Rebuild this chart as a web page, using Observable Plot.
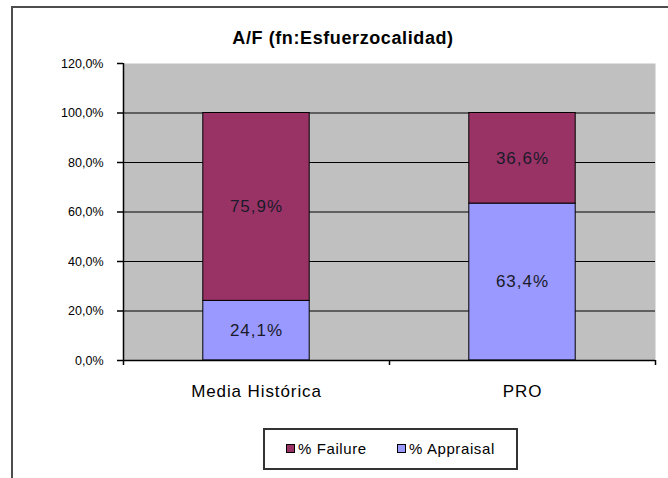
<!DOCTYPE html>
<html>
<head>
<meta charset="utf-8">
<script src="https://cdn.jsdelivr.net/npm/d3@7"></script>
<script src="https://cdn.jsdelivr.net/npm/@observablehq/plot@0.6"></script>
<style>
  html, body { margin: 0; padding: 0; background: #fff; }
  #wrap { position: relative; width: 668px; height: 478px; overflow: hidden; font-family: Arial, "Liberation Sans", sans-serif; }
  #frame { position: absolute; left: 11px; top: 6px; width: 700px; height: 520px; border: 2px solid #4d4d4d; box-sizing: border-box; }
  #title { position: absolute; left: 0; width: 686px; top: 28px; text-align: center; font-weight: bold; font-size: 18px; letter-spacing: 0.6px; color: #000; }
  #chart { position: absolute; left: 0; top: 0; }
  #legend { position: absolute; left: 263px; top: 428px; width: 255px; height: 42px; box-sizing: border-box; border: 2px solid #333; background: #fff; font-size: 15px; letter-spacing: 0.6px; color: #000; }
  .item { position: absolute; top: 10px; display: flex; align-items: center; }
  .sw { width: 7px; height: 7px; border: 1px solid #000; margin-right: 3px; }
</style>
</head>
<body>
<div id="wrap">
  <div id="frame"></div>
  <div id="chart"></div>
  <div id="title"></div>
  <div id="legend"></div>
</div>
<script>
const title = "A/F (fn:Esfuerzocalidad)";
const categories = ["Media Histórica", "PRO"];
const seriesNames = ["% Failure", "% Appraisal"];
const seriesColors = ["#993366", "#9999ff"];
const failure = [0.759, 0.366];
const appraisal = [0.241, 0.634];
const yTicks = [0, 0.2, 0.4, 0.6, 0.8, 1.0, 1.2];

const fmt = d => (d * 100).toFixed(1).replace(".", ",") + "%";

// stacked rows: appraisal at bottom, failure on top
const rows = [];
categories.forEach((c, i) => {
  rows.push({cat: c, i, series: seriesNames[1], y1: 0, y2: appraisal[i], v: appraisal[i]});
  rows.push({cat: c, i, series: seriesNames[0], y1: appraisal[i], y2: appraisal[i] + failure[i], v: failure[i]});
});

const plot = Plot.plot({
  width: 668,
  height: 478,
  marginLeft: 123,
  marginRight: 13,
  marginTop: 63,
  marginBottom: 118,
  style: {fontFamily: "Arial, 'Liberation Sans', sans-serif", fontSize: "12.5px", background: "transparent", color: "#000"},
  x: {domain: [0, categories.length], axis: null},
  y: {domain: [0, 1.2], axis: null},
  color: {domain: seriesNames, range: seriesColors},
  marks: [
    Plot.frame({fill: "#c0c0c0", stroke: "none"}),
    Plot.ruleY(yTicks.filter(d => d > 0 && d < 1.2), {stroke: "#000", strokeWidth: 1}),
    Plot.rectY(rows, {x1: d => d.i + 0.3, x2: d => d.i + 0.7, y1: "y1", y2: "y2", fill: "series", stroke: "#000", strokeWidth: 1}),
    Plot.ruleY([0], {stroke: "#000", strokeWidth: 1.5}),
    Plot.ruleX([0], {y1: 0, y2: 1.2, stroke: "#000", strokeWidth: 1.5}),
    Plot.axisY({ticks: yTicks, tickSize: 6, tickPadding: 14, tickFormat: fmt, fontSize: 12.5, stroke: "#000", strokeWidth: 1.5}),
    Plot.axisX({ticks: d3.range(categories.length + 1), tickSize: 5, tickFormat: () => "", stroke: "#000", strokeWidth: 1.5}),
    Plot.text(categories, {x: (d, i) => i + 0.5, y: 0, dy: 31, text: d => d, fontSize: 17, fill: "#000"}),
    Plot.text(rows, {x: d => d.i + 0.5, y: d => (d.y1 + d.y2) / 2, text: d => fmt(d.v), fontSize: 17, fill: "#1a1a2a"})
  ]
});
const barLabelSet = new Set(rows.map(d => fmt(d.v)));
d3.select(plot).selectAll("text").each(function() {
  const t = this.textContent;
  if (categories.includes(t)) this.style.letterSpacing = "0.9px";
  else if (barLabelSet.has(t)) this.style.letterSpacing = "1px";
});
document.getElementById("chart").appendChild(plot);
document.getElementById("title").textContent = title;

const legend = document.getElementById("legend");
const lx = [21, 132];
seriesNames.forEach((s, k) => {
  const it = document.createElement("div");
  it.className = "item";
  it.style.left = lx[k] + "px";
  const sw = document.createElement("div");
  sw.className = "sw";
  sw.style.background = seriesColors[k];
  const t = document.createElement("span");
  t.textContent = s;
  it.appendChild(sw); it.appendChild(t);
  legend.appendChild(it);
});
</script>
</body>
</html>
